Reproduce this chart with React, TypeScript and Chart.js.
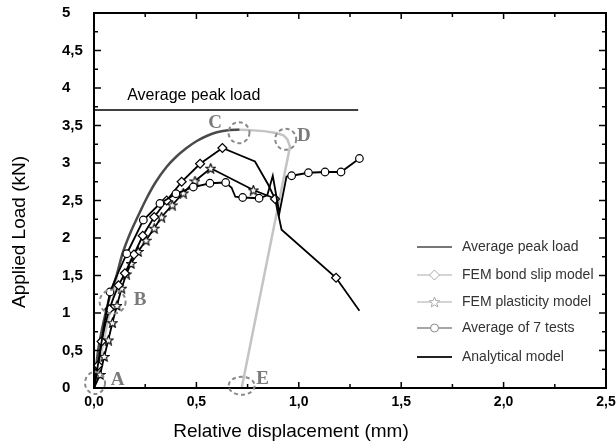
import React, { useEffect, useRef } from 'react';
import { Chart, registerables } from 'chart.js';
Chart.register(...registerables);

// ---- axis ----
const xMin = 0, xMax = 2.5, xStep = 0.5;
const yMin = 0, yMax = 5, yStep = 0.5;

// ---- average peak load (horizontal reference) ----
const peakLineX = [0, 1.29];
const peakLineY = [3.707, 3.707];

// ---- envelope curve O -> C (dark grey) ----
const envX = [0, 0.02, 0.045, 0.075, 0.112, 0.14, 0.176, 0.225, 0.257, 0.3, 0.355, 0.4, 0.452, 0.5, 0.55, 0.6, 0.664, 0.71];
const envY = [0, 0.5, 0.86, 1.2, 1.52, 1.8, 2.06, 2.35, 2.53, 2.74, 2.95, 3.08, 3.2, 3.29, 3.36, 3.41, 3.44, 3.445];

// ---- light grey branches ----
const initX = [0, 0.115];
const initY = [0, 1.5];
const softX = [0.7, 0.75, 0.83, 0.89, 0.925, 0.945, 0.957, 0.721];
const softY = [3.445, 3.44, 3.425, 3.4, 3.37, 3.31, 3.22, 0];

// ---- FEM bond slip model (diamonds) ----
const bondX = [0, 0.02, 0.037, 0.055, 0.075, 0.095, 0.12, 0.151, 0.195, 0.238, 0.294, 0.355, 0.428, 0.518, 0.627, 0.786, 0.851, 0.884, 0.916, 1.182, 1.296];
const bondY = [0, 0.3, 0.62, 0.85, 1.05, 1.2, 1.37, 1.53, 1.78, 2.03, 2.28, 2.5, 2.75, 2.99, 3.2, 3.02, 2.71, 2.52, 2.11, 1.47, 1.03];
const bondMark = [0, 1, 1, 0, 1, 0, 1, 1, 1, 1, 1, 1, 1, 1, 1, 0, 0, 1, 0, 1, 0];

// ---- FEM plasticity model (stars) ----
const plastX = [0, 0.03, 0.05, 0.07, 0.09, 0.112, 0.135, 0.158, 0.181, 0.216, 0.254, 0.294, 0.33, 0.382, 0.436, 0.493, 0.57, 0.778, 0.88];
const plastY = [0, 0.18, 0.42, 0.64, 0.87, 1.1, 1.33, 1.52, 1.66, 1.82, 1.97, 2.13, 2.28, 2.44, 2.6, 2.76, 2.93, 2.64, 2.53];
const plastMark = [0, 1, 1, 1, 1, 1, 1, 1, 1, 1, 1, 1, 1, 1, 1, 1, 1, 1, 0];

// ---- Average of 7 tests (circles) ----
const testX = [0, 0.025, 0.05, 0.078, 0.12, 0.16, 0.241, 0.322, 0.4, 0.485, 0.566, 0.643, 0.672, 0.69, 0.726, 0.806, 0.846, 0.873, 0.905, 0.94, 0.965, 1.047, 1.128, 1.206, 1.296];
const testY = [0, 0.4, 0.85, 1.28, 1.55, 1.79, 2.24, 2.46, 2.59, 2.68, 2.73, 2.74, 2.67, 2.55, 2.54, 2.53, 2.57, 2.83, 2.33, 2.82, 2.83, 2.87, 2.88, 2.88, 3.06];
const testMark = [0, 0, 0, 1, 0, 1, 1, 1, 1, 1, 1, 1, 0, 0, 1, 1, 0, 0, 0, 0, 1, 1, 1, 1, 1];

// ---- point annotations A..E ----
const markNames = ['A', 'B', 'C', 'D', 'E'];
const markCircleX = [0.005, 0.091, 0.708, 0.936, 0.721];
const markCircleY = [0.067, 1.151, 3.404, 3.316, 0.03];
const markTextX = [0.115, 0.225, 0.591, 1.025, 0.823];
const markTextY = [0.107, 1.173, 3.537, 3.36, 0.12];

// ---- text ----
const peakText = 'Average peak load';
const peakTextX = 0.162;
const peakTextY = 3.84;
const xTitle = 'Relative displacement (mm)';
const yTitle = 'Applied Load (kN)';
const legendLabels = ['Average peak load', 'FEM bond slip model', 'FEM plasticity model', 'Average of 7 tests', 'Analytical model'];

const pts = (xs: number[], ys: number[]) => xs.map((x, i) => ({ x, y: ys[i] }));

function starPath(ctx: CanvasRenderingContext2D, cx: number, cy: number, R: number, r: number) {
  ctx.beginPath();
  for (let i = 0; i < 10; i++) {
    const a = -Math.PI / 2 + (i * Math.PI) / 5;
    const rad = i % 2 === 0 ? R : r;
    const px = cx + rad * Math.cos(a);
    const py = cy + rad * Math.sin(a);
    if (i === 0) ctx.moveTo(px, py);
    else ctx.lineTo(px, py);
  }
  ctx.closePath();
}

function makeStar(color: string) {
  const c = document.createElement('canvas');
  c.width = 11;
  c.height = 11;
  const g = c.getContext('2d')!;
  starPath(g, 5.5, 6, 5, 2.2);
  g.fillStyle = '#fff';
  g.fill();
  g.strokeStyle = color;
  g.lineWidth = 1.1;
  g.stroke();
  return c;
}

const SANS = '"Liberation Sans", Arial, sans-serif';

const decor = {
  id: 'decor',
  afterDraw(chart: any) {
    const { ctx, chartArea: a, scales } = chart;
    const xs = scales.x, ys = scales.y;
    ctx.save();
    // frame
    ctx.strokeStyle = '#000';
    ctx.lineWidth = 2;
    ctx.strokeRect(a.left, a.top, a.right - a.left, a.bottom - a.top);
    // inward ticks
    ctx.lineWidth = 1.5;
    const seg = (x1: number, y1: number, x2: number, y2: number) => {
      ctx.beginPath();
      ctx.moveTo(x1, y1);
      ctx.lineTo(x2, y2);
      ctx.stroke();
    };
    for (let i = 0; i <= 10; i++) {
      const v = xMin + (i * xStep) / 2;
      const px = xs.getPixelForValue(v);
      const L = i % 2 === 0 ? 6 : 4;
      seg(px, a.bottom, px, a.bottom - L);
      seg(px, a.top, px, a.top + L);
    }
    for (let i = 0; i <= 20; i++) {
      const v = yMin + (i * yStep) / 2;
      const py = ys.getPixelForValue(v);
      const L = i % 2 === 0 ? 7 : 4;
      seg(a.left, py, a.left + L, py);
      seg(a.right, py, a.right - L, py);
    }
    // average peak load text
    ctx.fillStyle = '#000';
    ctx.font = `16px ${SANS}`;
    ctx.textAlign = 'left';
    ctx.textBaseline = 'alphabetic';
    ctx.fillText(peakText, xs.getPixelForValue(peakTextX), ys.getPixelForValue(peakTextY));
    // dashed circles + letters
    const radii = [[10, 11], [13, 12], [10.5, 10.5], [10.5, 10.5], [13, 9]];
    ctx.strokeStyle = '#8a8a8a';
    ctx.lineWidth = 2;
    ctx.setLineDash([4, 3]);
    markNames.forEach((_, i) => {
      ctx.beginPath();
      ctx.ellipse(xs.getPixelForValue(markCircleX[i]), ys.getPixelForValue(markCircleY[i]), radii[i][0], radii[i][1], 0, 0, Math.PI * 2);
      ctx.stroke();
    });
    ctx.setLineDash([]);
    ctx.fillStyle = '#7a7a7a';
    ctx.font = 'bold 19px "Liberation Serif", "Times New Roman", serif';
    ctx.textAlign = 'center';
    ctx.textBaseline = 'middle';
    markNames.forEach((n, i) => {
      ctx.fillText(n, xs.getPixelForValue(markTextX[i]), ys.getPixelForValue(markTextY[i]));
    });
    // legend
    const rowY = [247, 275, 302, 328, 357];
    const lx1 = 417, lx2 = 452, lcx = (lx1 + lx2) / 2, tx = 462;
    const lStyles = [
      { c: '#777', w: 2 },
      { c: '#aaa', w: 1 },
      { c: '#aaa', w: 1 },
      { c: '#888', w: 1.5 },
      { c: '#222', w: 2 },
    ];
    legendLabels.forEach((lab, i) => {
      const y = rowY[i];
      ctx.strokeStyle = lStyles[i].c;
      ctx.lineWidth = lStyles[i].w;
      seg(lx1, y, lx2, y);
      ctx.lineWidth = 1;
      if (i === 1) {
        ctx.beginPath();
        ctx.moveTo(lcx, y - 5);
        ctx.lineTo(lcx + 5, y);
        ctx.lineTo(lcx, y + 5);
        ctx.lineTo(lcx - 5, y);
        ctx.closePath();
        ctx.fillStyle = '#fff';
        ctx.fill();
        ctx.stroke();
      } else if (i === 2) {
        starPath(ctx, lcx, y + 0.5, 5.5, 2.4);
        ctx.fillStyle = '#fff';
        ctx.fill();
        ctx.stroke();
      } else if (i === 3) {
        ctx.beginPath();
        ctx.arc(lcx, y, 4, 0, Math.PI * 2);
        ctx.fillStyle = '#fff';
        ctx.fill();
        ctx.stroke();
      }
      ctx.fillStyle = '#333';
      ctx.font = `14px ${SANS}`;
      ctx.textAlign = 'left';
      ctx.textBaseline = 'middle';
      ctx.fillText(lab, tx, y);
    });
    // axis titles
    ctx.fillStyle = '#000';
    ctx.font = `19px ${SANS}`;
    ctx.textAlign = 'center';
    ctx.textBaseline = 'middle';
    ctx.fillText(xTitle, 291, 432);
    ctx.save();
    ctx.translate(20, 232);
    ctx.rotate(-Math.PI / 2);
    ctx.fillText(yTitle, 0, 0);
    ctx.restore();
    ctx.restore();
  },
};

export default function App() {
  const ref = useRef<HTMLCanvasElement>(null);
  useEffect(() => {
    const canvas = ref.current!;
    const star = makeStar('#000');
    const chart = new Chart(canvas, {
      type: 'scatter',
      data: {
        datasets: [
          {
            label: 'Average of 7 tests',
            data: pts(testX, testY),
            showLine: true,
            borderColor: '#000',
            borderWidth: 1.8,
            tension: 0,
            pointStyle: 'circle',
            pointRadius: testMark.map((m) => (m ? 3.8 : 0)),
            pointBackgroundColor: '#fff',
            pointBorderColor: '#000',
            pointBorderWidth: 1.2,
          },
          {
            label: 'FEM bond slip model',
            data: pts(bondX, bondY),
            showLine: true,
            borderColor: '#000',
            borderWidth: 1.8,
            tension: 0,
            pointStyle: 'rectRot',
            pointRadius: bondMark.map((m) => (m ? 4.5 : 0)),
            pointBackgroundColor: '#fff',
            pointBorderColor: '#000',
            pointBorderWidth: 1.2,
          },
          {
            label: 'FEM plasticity model',
            data: pts(plastX, plastY),
            showLine: true,
            borderColor: '#000',
            borderWidth: 1.8,
            tension: 0,
            pointStyle: plastMark.map((m) => (m ? star : 'circle')) as any,
            pointRadius: plastMark.map((m) => (m ? 5 : 0)),
            pointBackgroundColor: '#fff',
            pointBorderColor: '#000',
          },
          {
            label: 'Average peak load line',
            data: pts(peakLineX, peakLineY),
            showLine: true,
            borderColor: '#000',
            borderWidth: 1.5,
            pointRadius: 0,
          },
          {
            label: 'Envelope',
            data: pts(envX, envY),
            showLine: true,
            borderColor: '#4a4a4a',
            borderWidth: 2.5,
            cubicInterpolationMode: 'monotone',
            pointRadius: 0,
          },
          {
            label: 'Initial',
            data: pts(initX, initY),
            showLine: true,
            borderColor: '#c4c4c4',
            borderWidth: 2,
            pointRadius: 0,
          },
          {
            label: 'Softening',
            data: pts(softX, softY),
            showLine: true,
            borderColor: '#c4c4c4',
            borderWidth: 2.5,
            tension: 0,
            pointRadius: 0,
          },
        ] as any,
      },
      options: {
        animation: false,
        responsive: false,
        devicePixelRatio: 1,
        events: [],
        layout: { padding: { left: 62, right: 10, top: 13, bottom: 0 } },
        plugins: { legend: { display: false }, tooltip: { enabled: false } },
        scales: {
          x: {
            type: 'linear',
            min: xMin,
            max: xMax,
            grid: { display: false, drawTicks: false },
            border: { display: false },
            ticks: {
              stepSize: xStep,
              padding: 6,
              color: '#000',
              maxRotation: 0,
              autoSkip: false,
              font: { family: SANS, size: 14, weight: 'bold' },
              callback: (v: any) => Number(v).toFixed(1).replace('.', ','),
            },
            afterFit: (s: any) => {
              s.height = 60;
              s.paddingLeft = 0;
              s.paddingRight = 0;
            },
          },
          y: {
            type: 'linear',
            min: yMin,
            max: yMax,
            grid: { display: false, drawTicks: false },
            border: { display: false },
            ticks: {
              stepSize: yStep,
              crossAlign: 'far',
              color: '#000',
              autoSkip: false,
              font: { family: SANS, size: 15, weight: 'bold' },
              callback: (v: any) => {
                const n = Number(v);
                return Number.isInteger(n) ? String(n) : String(n).replace('.', ',');
              },
            },
            afterFit: (s: any) => {
              s.width = 32;
              s.paddingTop = 0;
              s.paddingBottom = 0;
            },
          },
        },
      } as any,
      plugins: [decor],
    });
    return () => chart.destroy();
  }, []);
  return (
    <div style={{ position: 'absolute', left: 0, top: 0, width: 616, height: 448, background: '#fff' }}>
      <canvas ref={ref} width={616} height={448} style={{ display: 'block', width: 616, height: 448 }} />
    </div>
  );
}
